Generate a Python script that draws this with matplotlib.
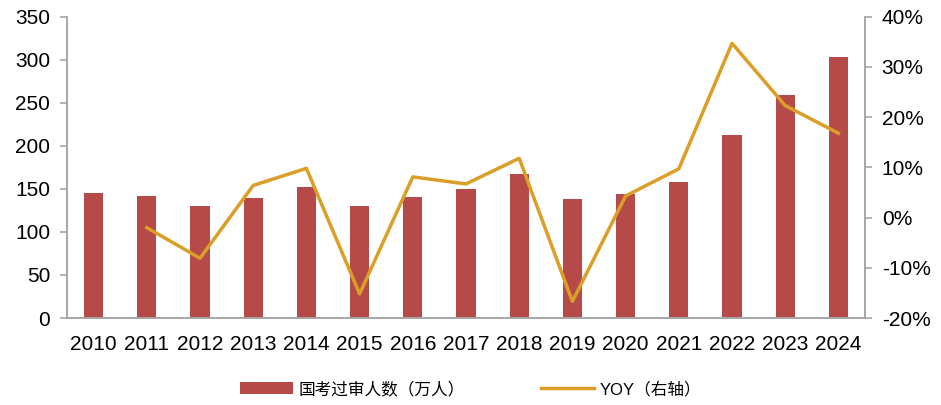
import numpy as np
import matplotlib
matplotlib.use("Agg")
from matplotlib import pyplot as plt
from matplotlib.ticker import FuncFormatter

plt.rcParams['font.family'] = ['Liberation Sans', 'Noto Sans CJK SC']
plt.rcParams['axes.unicode_minus'] = False

# 国考过审人数（万人）与同比
years = ['2010', '2011', '2012', '2013', '2014', '2015', '2016', '2017',
         '2018', '2019', '2020', '2021', '2022', '2023', '2024']
applicants = [145.5, 142.0, 130.5, 139.0, 152.5, 129.7, 140.0, 149.5,
              167.0, 138.6, 143.6, 157.6, 212.3, 259.5, 303.0]
yoy = [np.nan, -2.0, -8.1, 6.4, 9.8, -15.2, 8.1, 6.7,
       11.8, -16.7, 4.3, 9.7, 34.7, 22.3, 16.8]

bar_color = '#B54A48'
line_color = '#DB9E27'
axis_color = '#A6A6A6'

fig = plt.figure(figsize=(9.41, 4.05), dpi=100)
ax = fig.add_axes([67 / 941, 1 - 318 / 405, (865 - 67) / 941, (318 - 16.7) / 405])
ax2 = ax.twinx()

x = np.arange(len(years))
bars = ax.bar(x, applicants, width=0.36, color=bar_color, zorder=2)
line, = ax2.plot(x, yoy, color=line_color, lw=2.5, zorder=3)

ax.set_xlim(-0.5, len(years) - 0.5)
ax.set_ylim(0, 350)
ax.set_yticks(np.arange(0, 351, 50))
ax2.set_ylim(-20, 40)
ax2.set_yticks(np.arange(-20, 41, 10))
ax2.yaxis.set_major_formatter(FuncFormatter(lambda v, p: f'{v:.0f}%'))

ax.set_xticks(x)
ax.set_xticklabels(years)

for a in (ax, ax2):
    a.spines['top'].set_visible(False)
    for s in ('left', 'right', 'bottom'):
        a.spines[s].set_color(axis_color)
        a.spines[s].set_linewidth(1.2)
    a.tick_params(axis='y', colors=axis_color, labelcolor='black', labelsize=15,
                  length=5, width=1.2, direction='out')
ax.tick_params(axis='x', length=0, labelsize=15, pad=12)
ax.tick_params(axis='y', pad=7)
ax2.tick_params(axis='y', pad=7)

ax2.set_zorder(ax.get_zorder() + 1)
ax2.patch.set_visible(False)

fig.legend([bars, line], ['国考过审人数（万人）', 'YOY（右轴）'], loc='center',
           bbox_to_anchor=(0.5, 1 - 389 / 405), ncol=2, frameon=False,
           fontsize=12, handlelength=3.2, handleheight=0.75, columnspacing=4.6,
           handletextpad=0.3)

fig.savefig('out.png', dpi=100)
